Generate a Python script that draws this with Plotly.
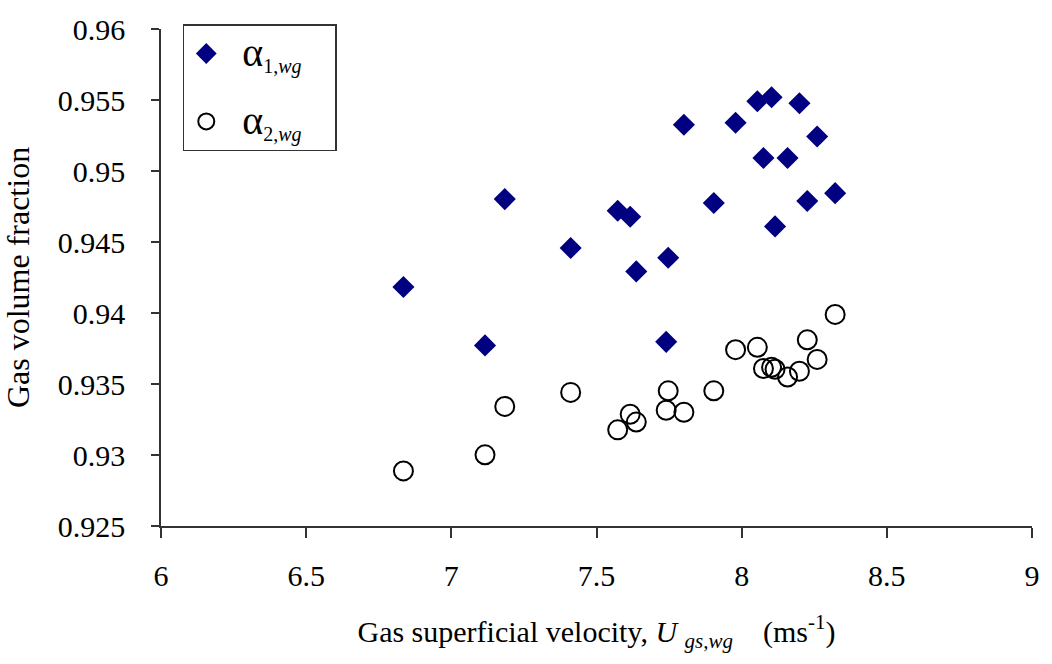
import plotly.graph_objects as go

# Gas superficial velocity U_gs,wg (m/s), shared by both series
velocity = [6.835, 7.116, 7.184, 7.411, 7.573, 7.616, 7.637, 7.747, 7.740, 7.801,
            7.904, 7.979, 8.054, 8.103, 8.075, 8.158, 8.199, 8.115, 8.260, 8.226, 8.322]

# Gas volume fraction, method 1 (alpha_1,wg)
alpha_1 = [0.94183, 0.93772, 0.94802, 0.94458, 0.94720, 0.94678, 0.94293, 0.94389,
           0.93797, 0.95326, 0.94775, 0.95340, 0.95491, 0.95519, 0.95092, 0.95092,
           0.95477, 0.94610, 0.95243, 0.94789, 0.94844]

# Gas volume fraction, method 2 (alpha_2,wg)
alpha_2 = [0.92888, 0.93001, 0.93342, 0.93441, 0.93177, 0.93287, 0.93232, 0.93452,
           0.93315, 0.93301, 0.93452, 0.93742, 0.93758, 0.93618, 0.93609, 0.93549,
           0.93590, 0.93604, 0.93673, 0.93811, 0.93990]

x_ticks = [6, 6.5, 7, 7.5, 8, 8.5, 9]
x_tick_text = ["6", "6.5", "7", "7.5", "8", "8.5", "9"]
y_ticks = [0.925, 0.93, 0.935, 0.94, 0.945, 0.95, 0.955, 0.96]
y_tick_text = ["0.925", "0.93", "0.935", "0.94", "0.945", "0.95", "0.955", "0.96"]

SERIF = "Liberation Serif, Times New Roman, serif"
LEAD = '<span style="font-size:28px">&nbsp;&nbsp;</span>'
PAD = '<span style="font-size:28px">&nbsp;&nbsp;&nbsp;&nbsp;</span>'


def legend_label(idx):
    return (LEAD + '<span style="font-size:40px">α</span>'
            + '<sub><span style="font-size:20px">' + idx + ',<i>wg</i></span></sub>' + PAD)


fig = go.Figure()
fig.add_trace(go.Scatter(
    x=velocity, y=alpha_1, mode="markers",
    name=legend_label("1"),
    legendgroup="a1",
    marker=dict(symbol="diamond", size=17, color="#000080",
                line=dict(width=0)),
))
fig.add_trace(go.Scatter(
    x=velocity, y=alpha_2, mode="markers",
    name=legend_label("2"),
    legendgroup="a2",
    marker=dict(symbol="circle-open", size=19, color="#000000",
                line=dict(width=2, color="#000000")),
))

fig.update_xaxes(
    range=[6, 9], tickvals=x_ticks, ticktext=x_tick_text,
    showgrid=False, zeroline=False, showline=True,
    linecolor="#333333", linewidth=1.5,
    ticks="outside", tickcolor="#333333", tickwidth=1.5,
    ticklen=10, ticklabelstandoff=12,
    tickfont=dict(family=SERIF, size=30, color="#000000"),
    title=dict(text='Gas superficial velocity, <i>U</i>&nbsp;<sub><i>gs,wg</i></sub>&nbsp;&nbsp;&nbsp;&nbsp;(ms<sup>-1</sup>)',
               font=dict(family=SERIF, size=30, color="#000000"), standoff=30),
)
fig.update_yaxes(
    range=[0.925, 0.96], tickvals=y_ticks, ticktext=y_tick_text,
    showgrid=False, zeroline=False, showline=True,
    linecolor="#333333", linewidth=1.5,
    ticks="outside", tickcolor="#333333", tickwidth=1.5,
    ticklen=8, ticklabelstandoff=20,
    tickfont=dict(family=SERIF, size=30, color="#000000"),
    title=dict(text="Gas volume fraction",
               font=dict(family=SERIF, size=32, color="#000000"), standoff=22),
)

fig.update_layout(
    width=1052, height=664,
    margin=dict(l=161, r=15, t=19, b=138),
    paper_bgcolor="white", plot_bgcolor="white",
    font=dict(family=SERIF, color="#000000"),
    showlegend=True,
    legend=dict(
        x=0.025, y=1.01, xanchor="left", yanchor="top",
        bgcolor="white", bordercolor="#333333", borderwidth=1.5,
        font=dict(family=SERIF, size=33, color="#000000"),
        traceorder="grouped", tracegroupgap=22,
        itemwidth=34,
    ),
)

fig.write_html("out.html")
